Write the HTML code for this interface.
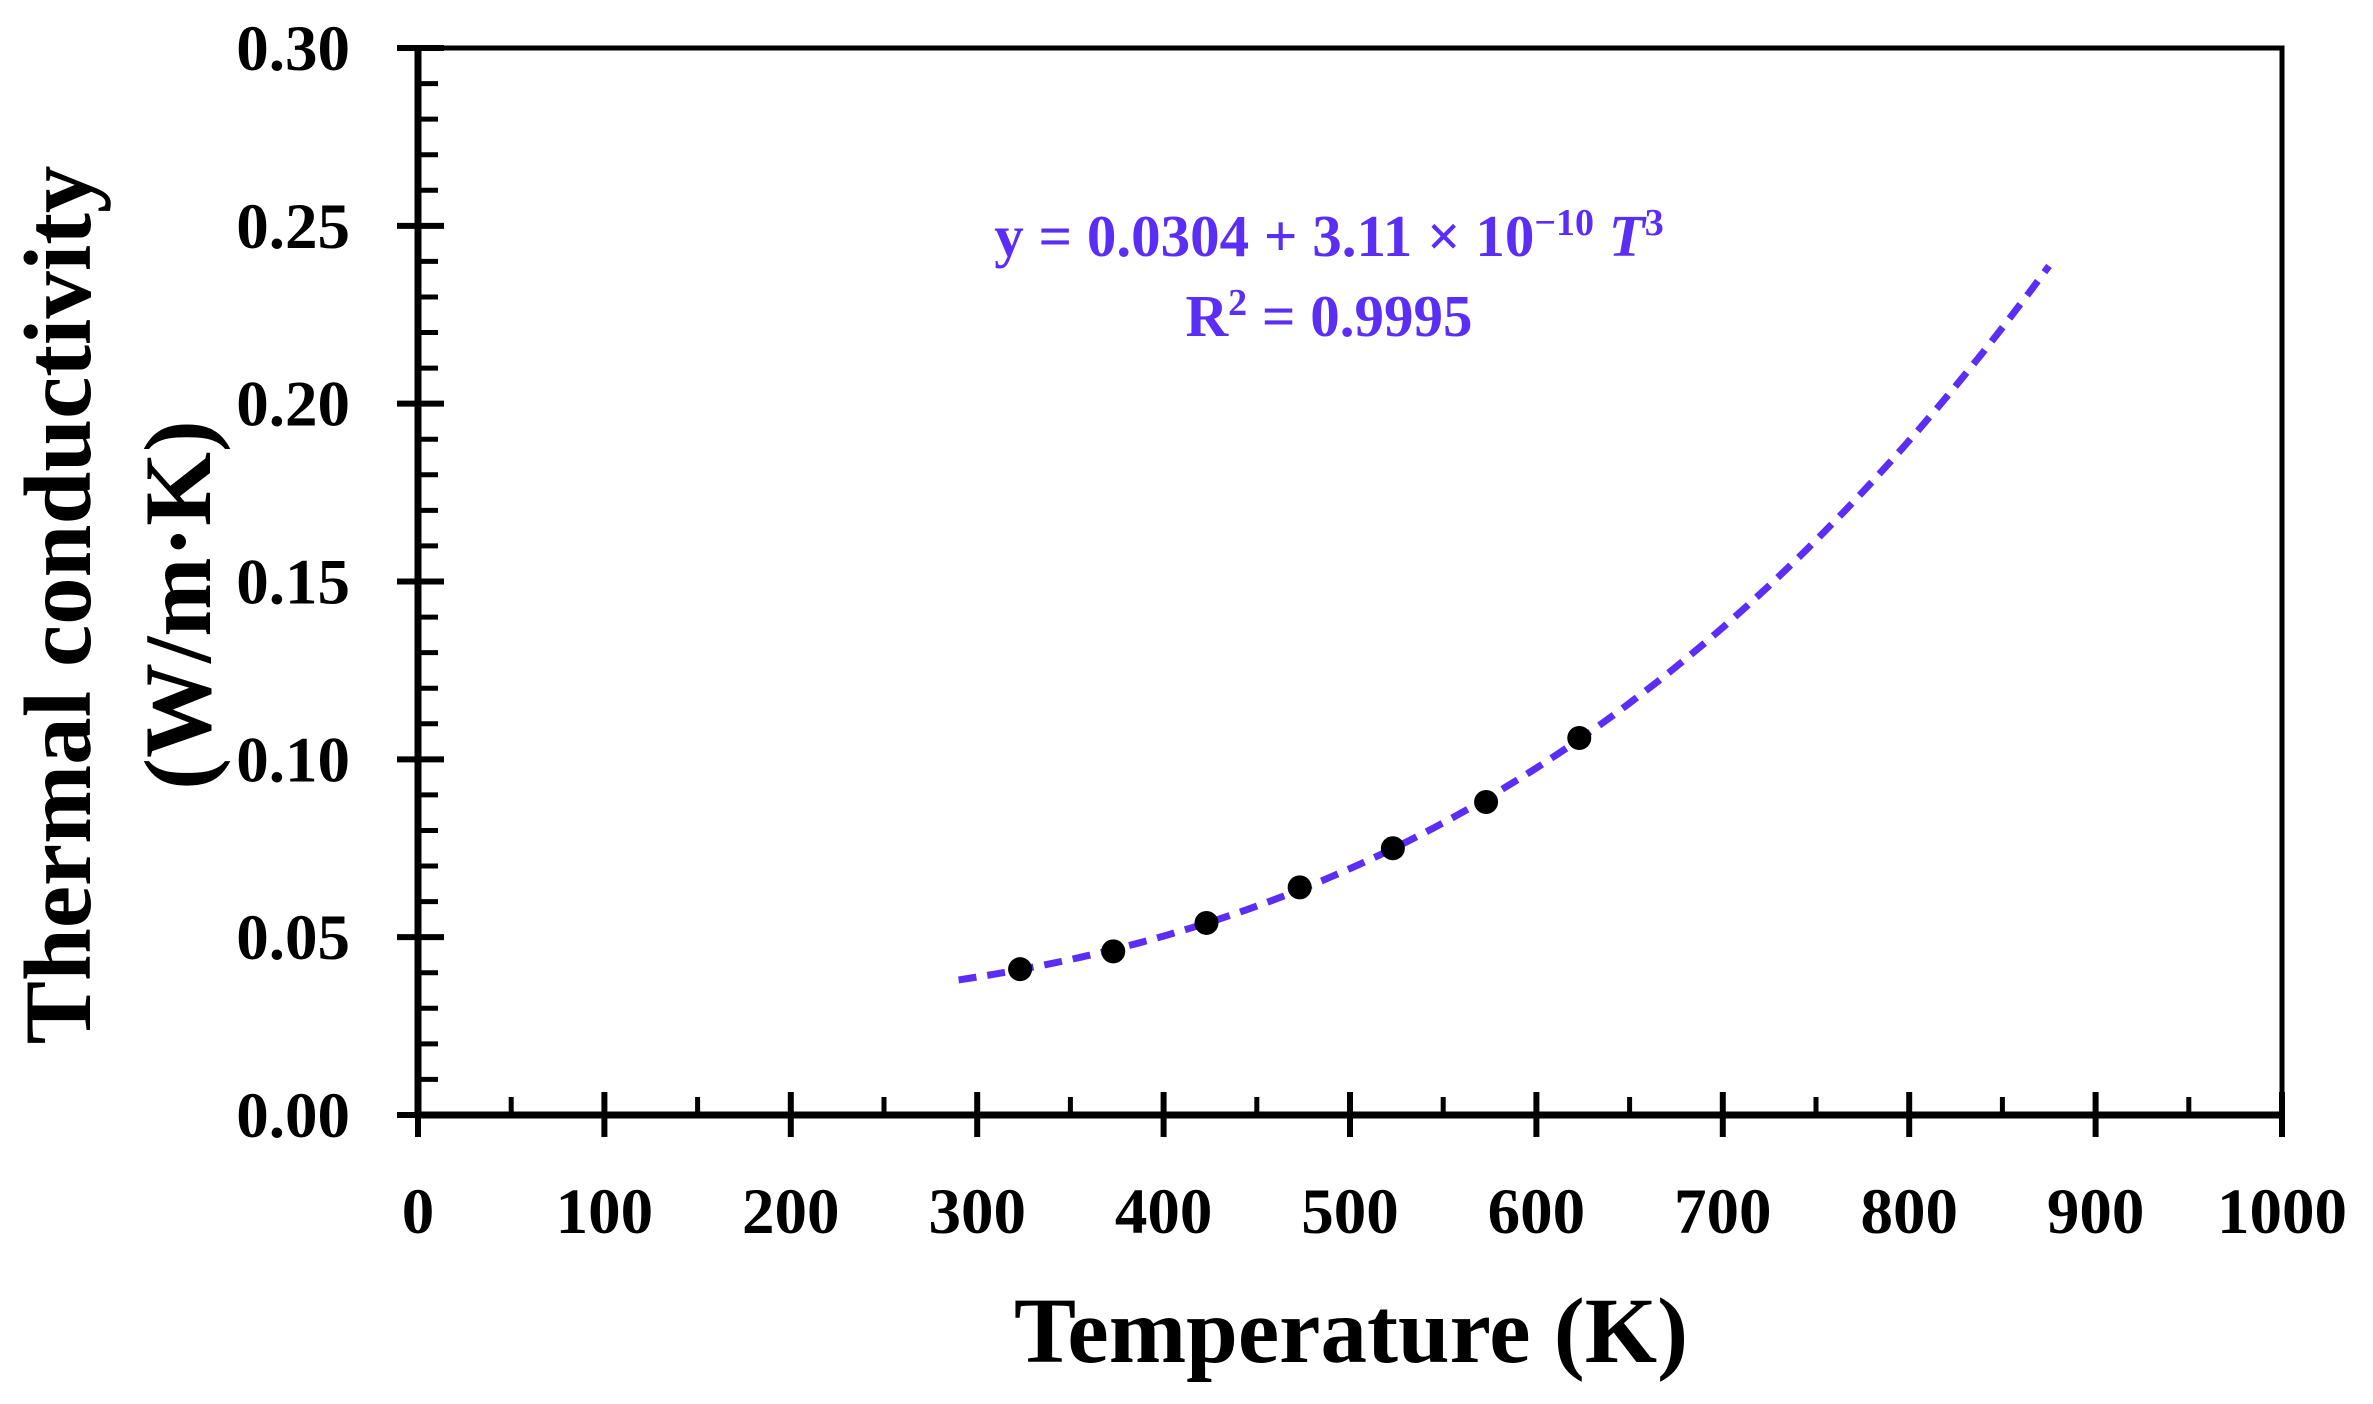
<!DOCTYPE html>
<html><head><meta charset="utf-8"><style>
html,body{margin:0;padding:0;background:#fff;}
svg{display:block;font-family:"Liberation Serif",serif;font-weight:bold;}
</style></head><body>
<svg id="chart" width="2373" height="1404" viewBox="0 0 2373 1404">
<g id="axes"></g>
<g id="fit"></g>
<g id="pts"></g>
<text x="1329" y="256" text-anchor="middle" font-size="59" fill="#5b2ef5">y = 0.0304 + 3.11 × 10<tspan font-size="38" dy="-21">−10</tspan><tspan dy="21"> </tspan><tspan font-style="italic">T</tspan><tspan font-size="38" dy="-21">3</tspan></text>
<text x="1329" y="336" text-anchor="middle" font-size="59" fill="#5b2ef5">R<tspan font-size="38" dy="-21">2</tspan><tspan dy="21"> = 0.9995</tspan></text>
<text x="1351" y="1362" text-anchor="middle" font-size="93">Temperature (K)</text>
<text transform="translate(90,605) rotate(-90)" text-anchor="middle" font-size="95">Thermal conductivity</text>
<text transform="translate(210,605) rotate(-90)" text-anchor="middle" font-size="95">(W/m·K)</text>
</svg>
<script>
const xTicks=[0,100,200,300,400,500,600,700,800,900,1000];
const yTicks=[0,0.05,0.10,0.15,0.20,0.25,0.30];
const yTickLabels=["0.00","0.05","0.10","0.15","0.20","0.25","0.30"];
const temps=[323,373,423,473,523,573,623];
const kValues=[0.041,0.046,0.054,0.064,0.075,0.088,0.106];
const fitA=0.0304, fitB=3.11e-10;
const fitRange=[290,875];

const L=418,R=2282,T=48,B=1115;
const sx=v=>L+(v-0)/(1000-0)*(R-L);
const sy=v=>B-(v-0)/(0.30-0)*(B-T);
const NS="http://www.w3.org/2000/svg";
function mk(tag,attrs,parent){const e=document.createElementNS(NS,tag);for(const k in attrs)e.setAttribute(k,attrs[k]);parent.appendChild(e);return e;}
const ax=document.getElementById('axes');
let f=mk('rect',{x:L,y:T,width:R-L,height:B-T,fill:'none',stroke:'#000','stroke-width':5},ax);


let la=mk('line',{x1:L,y1:T-3,x2:L,y2:B+3,stroke:'#000','stroke-width':7},ax);


let ba=mk('line',{x1:L-3,y1:B,x2:R+3,y2:B,stroke:'#000','stroke-width':7},ax);


for(let i=1;i<30;i++){ if(i%5===0) continue; const y=sy(i*0.01);
 let t=mk('line',{x1:L,y1:y,x2:L+20,y2:y,stroke:'#000','stroke-width':5},ax);
 
 }
yTicks.forEach((v,i)=>{const y=sy(v);
 let t=mk('line',{x1:L-21,y1:y,x2:L+26,y2:y,stroke:'#000','stroke-width':6},ax);
 
 
 let tx=mk('text',{x:350,y:y+22,'text-anchor':'end','font-size':65},ax);tx.textContent=yTickLabels[i];
 
 });
for(let v=50;v<1000;v+=100){const x=sx(v);
 let t=mk('line',{x1:x,y1:B,x2:x,y2:B-18,stroke:'#000','stroke-width':5},ax);
 
 }
xTicks.forEach(v=>{const x=sx(v);
 let t=mk('line',{x1:x,y1:B-23,x2:x,y2:B+22,stroke:'#000','stroke-width':6},ax);
 
 
 let tx=mk('text',{x:x,y:1233,'text-anchor':'middle','font-size':65},ax);tx.textContent=String(v);
 
 });
let d='';for(let t=fitRange[0];t<=fitRange[1];t+=5){const k=fitA+fitB*t*t*t;d+=(d?'L':'M')+sx(t).toFixed(1)+','+sy(k).toFixed(1);}
let p=mk('path',{d:d,fill:'none',stroke:'#5b2ef5','stroke-width':7,'stroke-dasharray':'18 11'},document.getElementById('fit'));


const pg=document.getElementById('pts');
temps.forEach((t,i)=>{let c=mk('circle',{cx:sx(t),cy:sy(kValues[i]),r:12,fill:'#000'},pg);
 
 });
</script>
</body></html>
